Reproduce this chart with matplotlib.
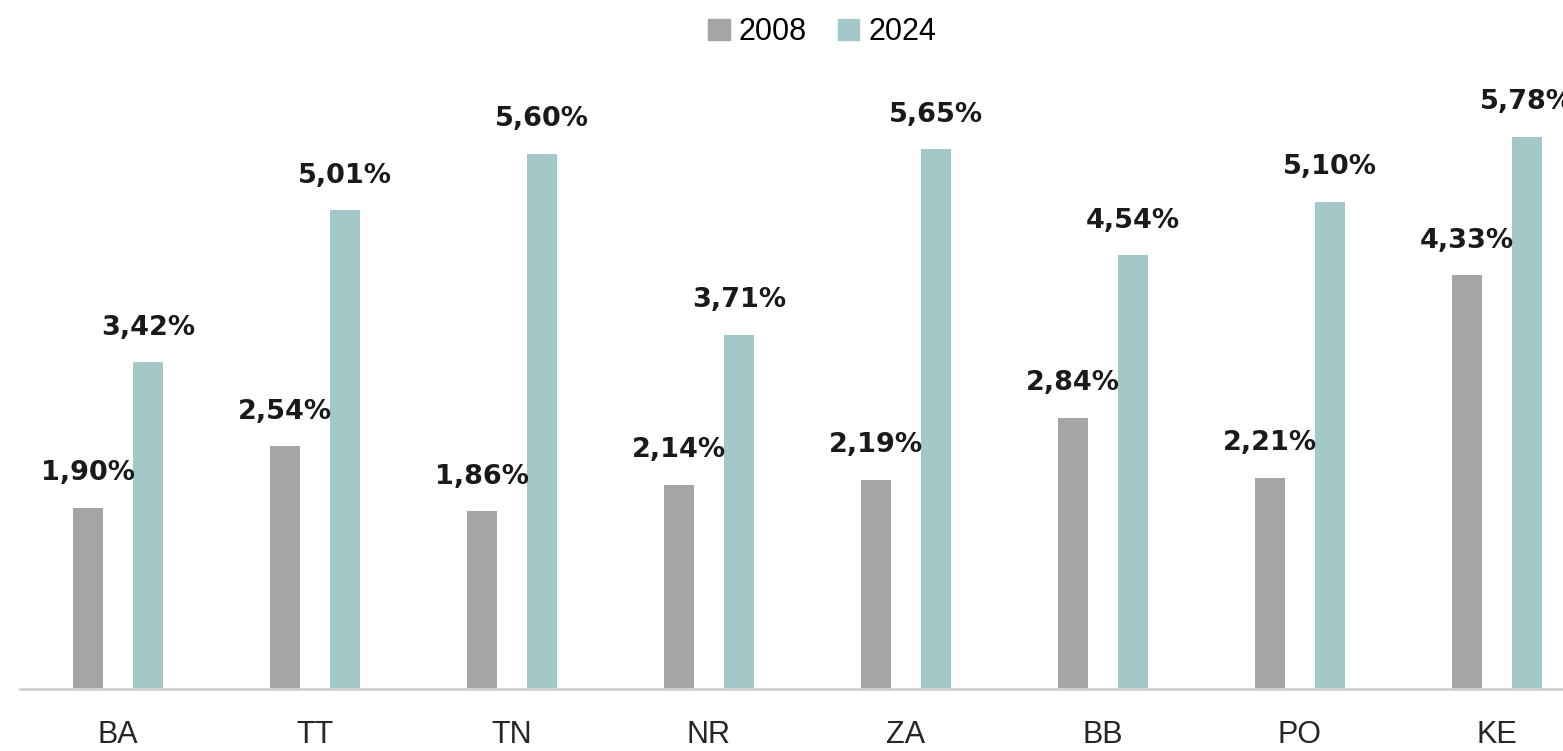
import matplotlib.pyplot as plt
from matplotlib.patches import Patch
import numpy as np

regions = ["BA", "TT", "TN", "NR", "ZA", "BB", "PO", "KE"]
share_2008 = [1.90, 2.54, 1.86, 2.14, 2.19, 2.84, 2.21, 4.33]
share_2024 = [3.42, 5.01, 5.60, 3.71, 5.65, 4.54, 5.10, 5.78]
series_labels = ["2008", "2024"]

GRAY = "#a5a5a5"
TEAL = "#a4c8c8"


def pct(v):
    return f"{v:.2f}".replace(".", ",") + "%"


fig = plt.figure(figsize=(15.63, 7.51), dpi=100)
ax = fig.add_axes([20 / 1563, 1 - 689 / 751, 1 - 20 / 1563, 619 / 751])

x = np.arange(len(regions))
width = 0.152
offset = 0.152
bars_a = ax.bar(x - offset, share_2008, width, color=GRAY)
bars_b = ax.bar(x + offset, share_2024, width, color=TEAL)

for bars, vals in ((bars_a, share_2008), (bars_b, share_2024)):
    for b, v in zip(bars, vals):
        ax.annotate(pct(v), (b.get_x() + b.get_width() / 2, v),
                    xytext=(0, 20), textcoords="offset points",
                    ha="center", va="baseline", fontsize=19.5,
                    fontweight="bold", family="DejaVu Sans",
                    color="#1a1a1a", annotation_clip=False)

ax.set_xlim(-0.497, 7.335)
ax.set_ylim(0, 6.48)
ax.set_xticks(x)
ax.set_xticklabels(regions, fontsize=22, family="Liberation Sans", color="#262626")
ax.tick_params(axis="x", length=0, pad=22)
ax.set_yticks([])
for side in ("top", "right", "left"):
    ax.spines[side].set_visible(False)
ax.spines["bottom"].set_color("#d0d0d0")
ax.spines["bottom"].set_linewidth(2)

handles = [Patch(color=GRAY), Patch(color=TEAL)]
fig.legend(handles, series_labels, loc="center", bbox_to_anchor=(0.526, 0.957),
           ncol=2, frameon=False, handlelength=0.7, handleheight=0.7,
           handletextpad=0.3, columnspacing=1.0,
           prop={"family": "Liberation Sans", "size": 22})

fig.savefig("out.png", dpi=100)
